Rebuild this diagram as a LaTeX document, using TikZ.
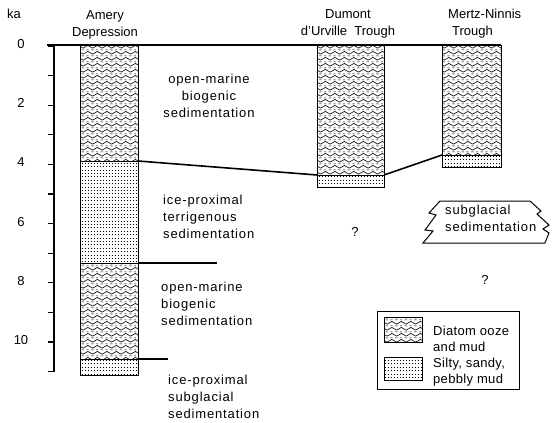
\documentclass[tikz,border=0pt]{standalone}
\usepackage{fontspec}
\setmainfont{Liberation Sans}
\newfontfamily\trackfont[LetterSpace=6.5]{Liberation Sans}
\newfontfamily\legendfont[LetterSpace=2.5]{Liberation Sans}
\usetikzlibrary{patterns}

% diatom ooze: waves with dashes between
\pgfdeclarepatternformonly{diatom}{\pgfqpoint{-1pt}{-1pt}}{\pgfqpoint{10.5pt}{7pt}}{\pgfqpoint{9.5pt}{6pt}}{%
  \pgfsetlinewidth{0.6pt}%
  \pgfpathmoveto{\pgfqpoint{0pt}{4.2pt}}%
  \pgfpathsine{\pgfqpoint{2.375pt}{1.35pt}}%
  \pgfpathcosine{\pgfqpoint{2.375pt}{-1.35pt}}%
  \pgfpathsine{\pgfqpoint{2.375pt}{-1.35pt}}%
  \pgfpathcosine{\pgfqpoint{2.375pt}{1.35pt}}%
  \pgfpathmoveto{\pgfqpoint{0.8pt}{1.1pt}}\pgfpathlineto{\pgfqpoint{3.2pt}{1.1pt}}%
  \pgfpathmoveto{\pgfqpoint{5.6pt}{1.1pt}}\pgfpathlineto{\pgfqpoint{8pt}{1.1pt}}%
  \pgfusepath{stroke}%
}
% silty, sandy, pebbly mud: rows of dots
\pgfdeclarepatternformonly{silty}{\pgfqpoint{-0.5pt}{-0.5pt}}{\pgfqpoint{3.5pt}{3.5pt}}{\pgfqpoint{3pt}{3.4pt}}{%
  \pgfsetlinewidth{0.6pt}%
  \pgfpathmoveto{\pgfqpoint{0.6pt}{1.5pt}}\pgfpathlineto{\pgfqpoint{1.6pt}{1.5pt}}%
  \pgfusepath{stroke}%
}

\tikzset{
  header/.style={font=\fontsize{13}{17}\selectfont, align=center, anchor=north, inner sep=0pt},
  facies/.style={font=\fontsize{13}{16.8}\selectfont\trackfont, align=left, anchor=north west, inner sep=0pt},
  axislabel/.style={font=\fontsize{13}{15}\selectfont, inner sep=0pt},
  ooze/.style={draw, line width=0.9pt, pattern=diatom},
  mud/.style={draw, line width=0.9pt, pattern=silty},
  contact/.style={line width=1.6pt},
}

\begin{document}
\begin{tikzpicture}[x=1pt, y=-1pt]
  \useasboundingbox (0,0) rectangle (552,423);

  % Age axis
  \draw[line width=1.7pt] (54,45) -- (54,372);
  \foreach \k in {0,...,11}
    \draw[line width=1.2pt] (48,{46+29.6*\k}) -- (54,{46+29.6*\k});
  \foreach \k in {0,2,4,6,8,10}
    \node[axislabel] (age\k) at (21,{44+29.6*\k}) {\k};
  \node[axislabel] (ka) at (14,14) {ka};

  % Headers
  \node[header] (amery) at (105,10) {Amery\\Depression};
  \node[header] (dumont) at (348,9) {Dumont\\d'Urville\ \ Trough};
  \node[header, align=left, anchor=north west] (mertz) at (448,9) {Mertz-Ninnis\\\hspace{4pt}Trough};

  % Cores
  \draw[ooze] (80,45) rectangle (138,161);
  \draw[mud] (80,161) rectangle (138,263);
  \draw[ooze] (80,263) rectangle (138,359);
  \draw[mud] (80,359) rectangle (138,375);

  \draw[ooze] (317,45) rectangle (384,175);
  \draw[mud] (317,175) rectangle (384,187);

  \draw[ooze] (442,45) rectangle (501,155);
  \draw[mud] (442,155) rectangle (501,167);

  % Contacts
  \coordinate (top-l) at (47,45);
  \coordinate (top-r) at (501,45);
  \coordinate (amery-c1) at (138,161);
  \coordinate (dumont-l) at (317,175);
  \coordinate (dumont-r) at (384,175);
  \coordinate (mertz-l) at (442,155);
  \coordinate (amery-c2) at (138,263);
  \coordinate (amery-c2e) at (217,263);
  \coordinate (amery-c3) at (138,359);
  \coordinate (amery-c3e) at (168,359);

  \draw[line width=1.3pt] (top-l) -- (top-r);
  \draw[contact] (amery-c1) -- (dumont-l);
  \draw[contact] (dumont-r) -- (mertz-l);
  \draw[contact] (amery-c2) -- (amery-c2e);
  \draw[contact] (amery-c3) -- (amery-c3e);

  % Facies labels
  \node[facies, align=center, anchor=north] (om1) at (209,74) {open-marine\\biogenic\\sedimentation};
  \node[facies] (ip1) at (163,195) {ice-proximal\\terrigenous\\sedimentation};
  \node[facies] (om2) at (161,282) {open-marine\\biogenic\\sedimentation};
  \node[facies] (ip2) at (168,375) {ice-proximal\\subglacial\\sedimentation};

  \node[axislabel] (q1) at (355,232) {?};
  \node[axislabel] (q2) at (485,280) {?};

  % Subglacial block
  \draw[line width=1pt] (440,201) -- (530,201) -- (541,211) -- (537,214) -- (549,225)
    -- (543,229) -- (549,233) -- (545,243) -- (423,243) -- (433,231) -- (425,230)
    -- (436,215) -- (429,213) -- cycle;
  \node[facies] (sub) at (445,205) {subglacial\\sedimentation};

  % Legend
  \draw[line width=0.9pt] (377,311) rectangle (519,389);
  \draw[ooze] (384,317) rectangle (422,342);
  \draw[mud] (384,357) rectangle (422,380);
  \node[font=\fontsize{13}{16}\selectfont\legendfont, align=left, anchor=north west, inner sep=0pt]
    (key) at (433,325.7) {Diatom ooze\\and mud\\Silty, sandy,\\pebbly mud};
\end{tikzpicture}
\end{document}
